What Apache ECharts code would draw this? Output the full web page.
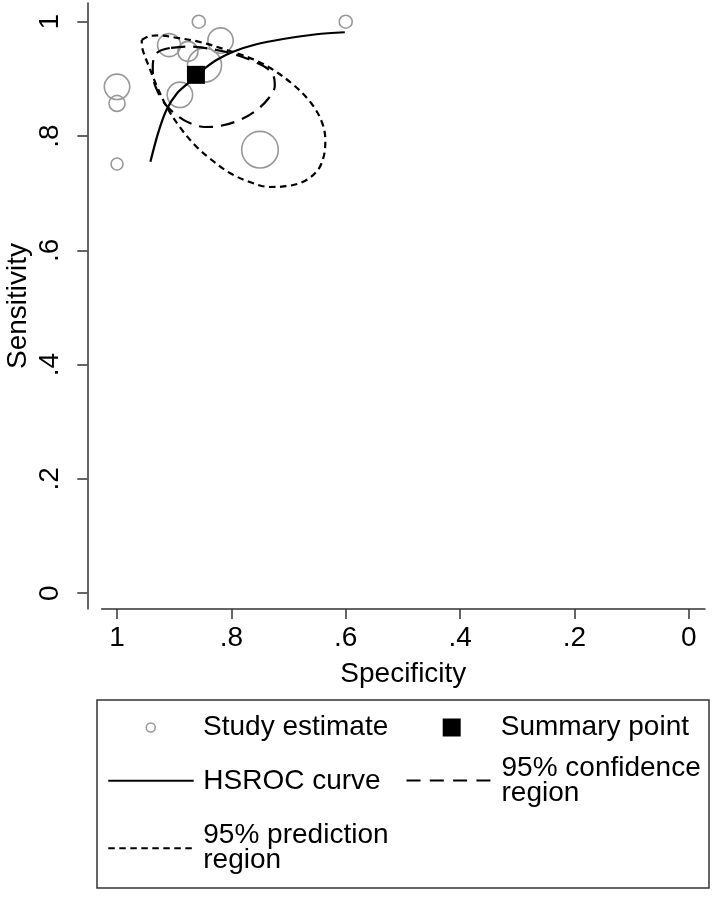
<!DOCTYPE html>
<html><head><meta charset="utf-8">
<script src="https://cdn.jsdelivr.net/npm/echarts@6/dist/echarts.min.js"></script>
<style>html,body{margin:0;padding:0;background:#fff}#c{width:719px;height:899px}</style>
</head><body><div id="c"></div>
<script>
// ---- data ----
const tickValues = [0, 0.2, 0.4, 0.6, 0.8, 1];
const tickLabels = ['0', '.2', '.4', '.6', '.8', '1'];

const studySpec   = [0.857, 0.600, 1.000, 1.000, 1.000, 0.909, 0.876, 0.819, 0.847, 0.890, 0.750];
const studySens   = [1.000, 1.000, 0.886, 0.857, 0.751, 0.959, 0.948, 0.967, 0.924, 0.872, 0.776];
const studyWeight = [1.17, 1.17, 4.48, 1.78, 1.00, 3.67, 2.78, 4.48, 8.03, 4.48, 9.30];

const summarySpec = [0.862];
const summarySens = [0.907];

const hsrocSpec = [0.9416, 0.9283, 0.9136, 0.8950, 0.8728, 0.8628, 0.8465, 0.8261, 0.7970, 0.7561, 0.7095, 0.6511, 0.6016];
const hsrocSens = [0.7551, 0.8047, 0.8455, 0.8747, 0.8950, 0.9050, 0.9185, 0.9330, 0.9475, 0.9605, 0.9697, 0.9780, 0.9815];

const confSpec = [0.9078, 0.9305, 0.9375, 0.9367, 0.9270, 0.9130, 0.8938, 0.8728, 0.8465, 0.8203, 0.7853, 0.7556, 0.7346, 0.7241, 0.7258, 0.7363, 0.7591, 0.7853, 0.8168, 0.8465, 0.8763, 0.9078];
const confSens = [0.9540, 0.9453, 0.9225, 0.9015, 0.8735, 0.8525, 0.8350, 0.8227, 0.8157, 0.8175, 0.8280, 0.8455, 0.8665, 0.8875, 0.9033, 0.9173, 0.9295, 0.9400, 0.9487, 0.9540, 0.9566, 0.9540];

const predSpec = [0.9568, 0.9428, 0.9253, 0.8990, 0.8553, 0.8028, 0.7591, 0.7293, 0.6891, 0.6593, 0.6418, 0.6357, 0.6383, 0.6488, 0.6716, 0.7013, 0.7328, 0.7678, 0.8028, 0.8343, 0.8623, 0.8903, 0.9130, 0.9305, 0.9445, 0.9550, 0.9568];
const predSens = [0.9680, 0.9750, 0.9759, 0.9724, 0.9645, 0.9487, 0.9330, 0.9173, 0.8875, 0.8560, 0.8245, 0.7930, 0.7650, 0.7405, 0.7213, 0.7125, 0.7108, 0.7195, 0.7353, 0.7580, 0.7825, 0.8157, 0.8507, 0.8875, 0.9225, 0.9505, 0.9680];

// ---- chart ----
const FONT = '"Liberation Sans", Arial, Helvetica, sans-serif';
const AX = '#333';
const zip = (a, b) => a.map((v, i) => [v, b[i]]);
const fmt = v => { const i = tickValues.findIndex(t => Math.abs(t - v) < 1e-9); return i >= 0 ? tickLabels[i] : ''; };

const chart = echarts.init(document.getElementById('c'), null, {renderer: 'canvas'});

const legendBase = {orient: 'horizontal', padding: 0, selectedMode: false};
const txt = pad => ({fontSize: 28, color: '#000', fontFamily: FONT, lineHeight: 25, padding: [0, 0, 0, pad]});

chart.setOption({
  animation: false,
  backgroundColor: '#fff',
  grid: {left: 101.7, right: 14, top: 3, bottom: 290, containLabel: false, outerBoundsMode: 'none'},
  xAxis: {
    type: 'value', inverse: true, min: -0.0283, max: 1.0268,
    name: 'Specificity', nameLocation: 'middle', nameGap: 51, nameMoveOverlap: false,
    nameTextStyle: {fontSize: 28, color: '#000', fontFamily: FONT},
    axisLine: {show: true, onZero: false, lineStyle: {color: AX, width: 1.5}},
    axisTick: {show: true, length: 10, lineStyle: {color: AX, width: 1.5}, customValues: tickValues},
    axisLabel: {fontSize: 28, color: '#000', fontFamily: FONT, margin: 15, customValues: tickValues, formatter: fmt},
    splitLine: {show: false}
  },
  yAxis: {
    type: 'value', min: -0.0276, max: 1.0327, offset: 14.4,
    name: 'Sensitivity', nameLocation: 'middle', nameGap: 55, nameRotate: 90, nameMoveOverlap: false,
    nameTextStyle: {fontSize: 28, color: '#000', fontFamily: FONT},
    axisLine: {show: true, onZero: false, lineStyle: {color: AX, width: 1.5}},
    axisTick: {show: true, length: 10, lineStyle: {color: AX, width: 1.5}, customValues: tickValues},
    axisLabel: {fontSize: 28, color: '#000', fontFamily: FONT, margin: 23, rotate: 90, customValues: tickValues, formatter: fmt},
    splitLine: {show: false}
  },
  legend: [
    Object.assign({}, legendBase, {left: 145.5, top: 713.5, itemWidth: 9, itemHeight: 9, textStyle: txt(42.8),
      data: [{name: 'Study estimate', icon: 'circle', itemStyle: {color: '#fff', borderColor: '#999', borderWidth: 1.5, opacity: 1}}]}),
    Object.assign({}, legendBase, {left: 442.7, top: 713.5, itemWidth: 18, itemHeight: 18, textStyle: txt(35),
      data: [{name: 'Summary point', icon: 'rect', itemStyle: {color: '#000', opacity: 1}}]}),
    Object.assign({}, legendBase, {left: 107.3, top: 766.8, itemWidth: 85.4, itemHeight: 14, textStyle: txt(4.6),
      itemStyle: {opacity: 0}, lineStyle: {color: '#000', width: 2, type: 'solid'},
      data: ['HSROC curve']}),
    Object.assign({}, legendBase, {left: 405.5, top: 754, itemWidth: 84, itemHeight: 14, textStyle: txt(6),
      itemStyle: {opacity: 0}, lineStyle: {color: '#000', width: 2, type: [14, 9.3]},
      formatter: () => '95% confidence\nregion',
      data: ['95% confidence region']}),
    Object.assign({}, legendBase, {left: 107.3, top: 821.7, itemWidth: 85.4, itemHeight: 14, textStyle: txt(4.6),
      itemStyle: {opacity: 0}, lineStyle: {color: '#000', width: 2, type: [6.5, 4.5]},
      formatter: () => '95% prediction\nregion',
      data: ['95% prediction region']})
  ],
  graphic: [{
    type: 'rect', silent: true, z: 0,
    shape: {x: 97, y: 700, width: 612, height: 188},
    style: {fill: 'none', stroke: '#333', lineWidth: 1.5}
  }],
  series: [
    {
      name: 'Study estimate', type: 'scatter', symbol: 'circle',
      data: studySpec.map((s, i) => [s, studySens[i], studyWeight[i]]),
      symbolSize: v => 12 * Math.sqrt(v[2]),
      itemStyle: {color: 'rgba(0,0,0,0)', borderColor: '#999', borderWidth: 1.6, opacity: 1},
      z: 2
    },
    {
      name: '95% prediction region', type: 'line', data: zip(predSpec, predSens),
      symbol: 'none', showSymbol: false, smooth: 0.35,
      lineStyle: {color: '#000', width: 2.2, type: [6.5, 4.5]}, z: 3
    },
    {
      name: '95% confidence region', type: 'line', data: zip(confSpec, confSens),
      symbol: 'none', showSymbol: false, smooth: 0.35,
      lineStyle: {color: '#000', width: 2.2, type: [14, 8]}, z: 3
    },
    {
      name: 'HSROC curve', type: 'line', data: zip(hsrocSpec, hsrocSens),
      symbol: 'none', showSymbol: false, smooth: 0.3,
      lineStyle: {color: '#000', width: 2.2}, z: 4
    },
    {
      name: 'Summary point', type: 'scatter', symbol: 'rect', symbolSize: 18,
      data: zip(summarySpec, summarySens),
      itemStyle: {color: '#000', opacity: 1}, z: 5
    }
  ]
});
</script></body></html>
